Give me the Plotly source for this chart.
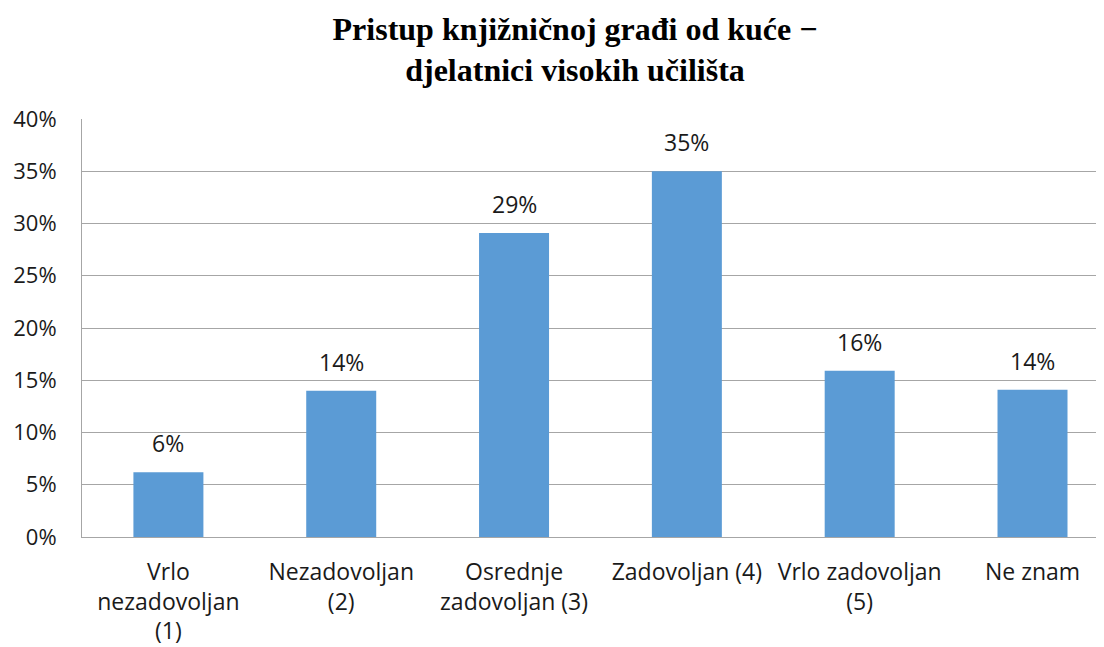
import plotly.graph_objects as go

categories = ["Vrlo<br>nezadovoljan<br>(1)", "Nezadovoljan<br>(2)", "Osrednje<br>zadovoljan (3)",
              "Zadovoljan (4)", "Vrlo zadovoljan<br>(5)", "Ne znam"]
values = [0.062, 0.140, 0.291, 0.350, 0.159, 0.141]
labels = ["6%", "14%", "29%", "35%", "16%", "14%"]
title = "Pristup knjižničnoj građi od kuće −<br>djelatnici visokih učilišta"

FONT = "Open Sans, Lato, sans-serif"

fig = go.Figure(go.Bar(
    x=categories, y=values,
    marker=dict(color="#5B9BD5", line=dict(width=0)),
    width=0.405, hoverinfo="skip",
))

for c, v, t in zip(categories, values, labels):
    fig.add_annotation(x=c, y=v, text=t, showarrow=False, yanchor="bottom", yshift=11,
                       font=dict(family=FONT, size=23, color="#1a1a1a"))

fig.update_layout(
    width=1104, height=647,
    margin=dict(l=74, r=0, t=111, b=118, autoexpand=False),
    paper_bgcolor="white", plot_bgcolor="white",
    title=dict(text="<b>" + title + "</b>", x=0.5136, xanchor="center", y=0.951, yanchor="top",
               font=dict(family="Liberation Serif, Times New Roman, serif", size=32, color="black")),
    font=dict(family=FONT, size=23, color="#1a1a1a"),
    showlegend=False,
)
fig.update_yaxes(range=[0, 0.40], dtick=0.05, tickformat=".0%", showgrid=True,
                 gridcolor="#A6A6A6", gridwidth=1, showline=True, linecolor="#A6A6A6",
                 ticks="", zeroline=False, ticklabelstandoff=20, automargin=False,
                 tickfont=dict(size=22))
fig.update_xaxes(showline=True, linecolor="#A6A6A6", ticks="", ticklabelstandoff=14,
                 automargin=False, range=[-0.5, 5.46])

fig.write_html("out.html")
